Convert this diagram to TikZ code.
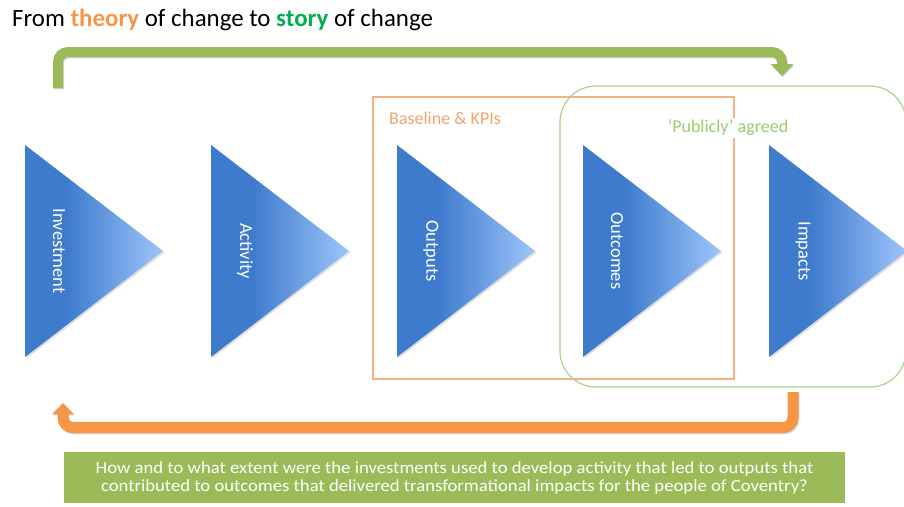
\documentclass[tikz,border=0pt]{standalone}
\usepackage{fontspec}
\setmainfont{Carlito}
\newfontfamily\questionfont[FakeStretch=1.1]{Carlito}
\usetikzlibrary{arrows.meta,calc}

\definecolor{stagedark}{HTML}{3E7BCD}
\definecolor{stagelight}{HTML}{9EC5FA}
\definecolor{loopgreen}{HTML}{9BBB59}
\definecolor{looporange}{HTML}{F79646}
\definecolor{theoryorange}{HTML}{F79646}
\definecolor{storygreen}{HTML}{00B050}
\definecolor{kpiline}{HTML}{F4B183}
\definecolor{kpitext}{HTML}{F2A46E}
\definecolor{agreedline}{HTML}{A9D18E}
\definecolor{agreedtext}{HTML}{9CCB6E}
\definecolor{questionfill}{HTML}{9BBB59}

% left third stays dark, then fades towards the tip
\pgfdeclarehorizontalshading{stageshade}{100bp}{color(0bp)=(stagedark); color(25bp)=(stagedark); color(40bp)=(stagedark); color(75bp)=(stagelight); color(100bp)=(stagelight)}

\begin{document}
\begin{tikzpicture}[x=1pt,y=-1pt,
  stage/.style={shading=stageshade, draw=none},
  stageshadow/.style={fill=black, opacity=0.12},
  stagelabel/.style={rotate=-90, text=white, font=\fontsize{18.5}{22}\selectfont, inner sep=0pt},
  loopshadow/.style={draw=black!55, opacity=0.3, transform canvas={shift={(0.8pt,-1.3pt)}}},
  greenloop/.style={draw=loopgreen, line width=10, rounded corners=10,
     -{Triangle[width=22,length=12]}},
  orangeloop/.style={draw=looporange, line width=11, rounded corners=10,
     -{Triangle[width=21,length=11]}},
  groupfont/.style={font=\fontsize{18}{22}\selectfont},
]
\useasboundingbox (0,0) rectangle (904,506);
\fill[white] (0,0) rectangle (904,506);

% heading
\node[anchor=base west, inner sep=0pt, font=\fontsize{24.9}{29}\selectfont] (heading) at (12,26)
  {From \textcolor{theoryorange}{\textbf{theory}} of change to \textcolor{storygreen}{\textbf{story}} of change};

% the five stages
\foreach \name/\lbl/\x in {inv/Investment/25, act/Activity/211, outp/Outputs/397, outc/Outcomes/583, imp/Impacts/769} {
  \fill[stageshadow] (\x+1.5,146.5) -- (\x+139.5,252.5) -- (\x+1.5,358.5) -- cycle;
  \path[stage] (\x,145) -- (\x+138,251) -- (\x,357) -- cycle;
  \node[stagelabel] (\name) at (\x+34,251) {\lbl};
}

% grouping frames
\draw[kpiline, line width=1.2] (373,97) rectangle (734,379);
\draw[agreedline, line width=1.2, rounded corners=36] (560,86) rectangle (906,387);
\node[anchor=west, text=kpitext, groupfont, inner sep=0pt] (kpilabel) at (389,118) {Baseline \& KPIs};
\node[fill=white, text=agreedtext, groupfont, inner sep=2pt] (agreedlabel) at (728,128) {‘Publicly’ agreed};

% forward loop: investment to impacts
\coordinate (gstart) at (58,88);
\coordinate (gtip) at (782,76);
\coordinate (glevel) at (0,52);
\draw[greenloop, loopshadow] (gstart) -- (gstart |- glevel) -- (gtip |- glevel) -- (gtip);
\draw[greenloop] (gstart) -- (gstart |- glevel) -- (gtip |- glevel) -- (gtip);

% return loop: impacts back to investment
\coordinate (ostart) at (793,392);
\coordinate (otip) at (63,403);
\coordinate (olevel) at (0,427.5);
\draw[orangeloop, loopshadow] (ostart) -- (ostart |- olevel) -- (otip |- olevel) -- (otip);
\draw[orangeloop] (ostart) -- (ostart |- olevel) -- (otip |- olevel) -- (otip);

% the guiding question
\node[fill=questionfill, minimum width=781, minimum height=51, inner sep=0pt, align=center,
      text=white, font=\questionfont\fontsize{17}{18}\selectfont] (question) at (454.5,477.5)
  {How and to what extent were the investments used to develop activity that led to outputs that\\
   contributed to outcomes that delivered transformational impacts for the people of Coventry?};
\end{tikzpicture}
\end{document}
